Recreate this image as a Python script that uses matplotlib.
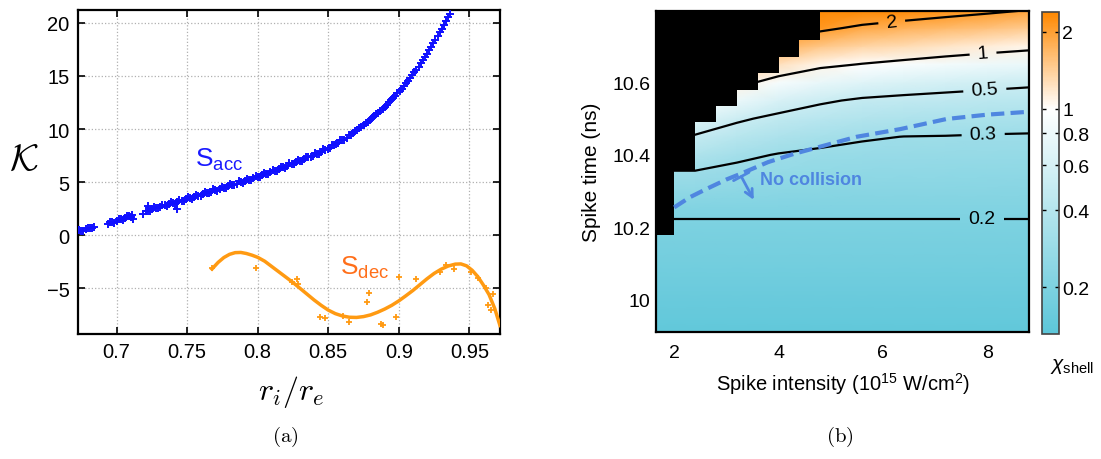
import numpy as np
import matplotlib
matplotlib.use("Agg")
import matplotlib.pyplot as plt
from matplotlib.colors import LinearSegmentedColormap, LogNorm

plt.rcParams['font.family'] = ['Liberation Sans', 'DejaVu Sans']
plt.rcParams['mathtext.fontset'] = 'custom'
plt.rcParams['mathtext.rm'] = 'Liberation Sans'
plt.rcParams['mathtext.it'] = 'Liberation Sans:italic'
plt.rcParams['mathtext.bf'] = 'Liberation Sans:bold'
plt.rcParams['mathtext.sf'] = 'Liberation Sans'

# ---- panel (a) data ----
acc_x = [0.672, 0.675, 0.678, 0.681, 0.684, 0.694, 0.697, 0.700, 0.703, 0.706,
         0.709, 0.711, 0.7118, 0.719, 0.722, 0.7224, 0.725, 0.728, 0.731, 0.734,
         0.737, 0.740, 0.743, 0.7425, 0.746, 0.749, 0.752, 0.755, 0.758, 0.761,
         0.764, 0.767, 0.770, 0.773, 0.776, 0.779, 0.782, 0.785, 0.788, 0.791,
         0.794, 0.797, 0.800, 0.803, 0.806, 0.809, 0.812, 0.815, 0.818, 0.821,
         0.824, 0.827, 0.830, 0.833, 0.836, 0.839, 0.842, 0.845, 0.848, 0.851,
         0.854, 0.857, 0.860, 0.863, 0.866, 0.869, 0.872, 0.875, 0.878, 0.881,
         0.884, 0.887, 0.890, 0.893, 0.896, 0.899, 0.902, 0.905, 0.908, 0.911,
         0.914, 0.917, 0.920, 0.923, 0.926, 0.929, 0.932, 0.935, 0.9365]
acc_y = [0.30, 0.42, 0.55, 0.68, 0.82, 1.05, 1.20, 1.35, 1.50, 1.63,
         1.77, 1.88, 1.53, 2.00, 2.30, 2.78, 2.45, 2.55, 2.68, 2.80,
         2.92, 3.00, 3.12, 2.47, 3.25, 3.38, 3.50, 3.60, 3.72, 3.85,
         3.98, 4.10, 4.22, 4.35, 4.47, 4.60, 4.72, 4.85, 4.97, 5.10,
         5.22, 5.36, 5.50, 5.63, 5.77, 5.92, 6.07, 6.22, 6.38, 6.53,
         6.68, 6.85, 7.00, 7.17, 7.33, 7.50, 7.67, 7.85, 8.03, 8.25,
         8.46, 8.68, 8.93, 9.20, 9.48, 9.77, 10.08, 10.37, 10.69, 11.02,
         11.37, 11.73, 12.11, 12.50, 12.92, 13.35, 13.81, 14.29, 14.79, 15.32,
         15.88, 16.46, 17.08, 17.72, 18.40, 19.10, 19.83, 20.50, 20.85]
# second pass of shots, in between the first ones
acc2_x = [0.6735, 0.6765, 0.6795, 0.6825, 0.6955, 0.6985, 0.7015, 0.7045, 0.7075, 0.7100,
          0.7205, 0.7235, 0.7265, 0.7295, 0.7325, 0.7355, 0.7385, 0.7415, 0.7445, 0.7475,
          0.7505, 0.7535, 0.7565, 0.7595, 0.7625, 0.7655, 0.7685, 0.7715, 0.7745, 0.7775,
          0.7805, 0.7835, 0.7865, 0.7895, 0.7925, 0.7955, 0.7985, 0.8015, 0.8045, 0.8075,
          0.8105, 0.8135, 0.8165, 0.8195, 0.8225, 0.8255, 0.8285, 0.8315, 0.8345, 0.8375,
          0.8405, 0.8435, 0.8465, 0.8495, 0.8525, 0.8555, 0.8585, 0.8615, 0.8645, 0.8675,
          0.8705, 0.8735, 0.8765, 0.8795, 0.8825, 0.8855, 0.8885, 0.8915, 0.8945, 0.8975,
          0.9005, 0.9035, 0.9065, 0.9095, 0.9125, 0.9155, 0.9185, 0.9215, 0.9245, 0.9275,
          0.9305, 0.9335]
acc2_y = [0.46, 0.39, 0.71, 0.65, 1.22, 1.18, 1.52, 1.47, 1.80, 1.73,
          2.30, 2.28, 2.65, 2.52, 2.89, 2.76, 3.11, 2.96, 3.34, 3.22,
          3.59, 3.45, 3.81, 3.68, 4.07, 3.94, 4.31, 4.19, 4.56, 4.44,
          4.81, 4.69, 5.06, 4.94, 5.31, 5.19, 5.58, 5.47, 5.85, 5.75,
          6.15, 6.05, 6.45, 6.36, 6.76, 6.67, 7.08, 6.99, 7.40, 7.32,
          7.74, 7.66, 8.09, 8.08, 8.47, 8.57, 8.92, 9.00, 9.44, 9.63,
          9.93, 10.22, 10.53, 10.86, 11.20, 11.55, 11.92, 12.30, 12.71, 13.13,
          13.58, 14.05, 14.54, 15.05, 15.60, 16.17, 16.77, 17.40, 18.06, 18.75,
          19.46, 20.20]

dec_x = [0.7676, 0.799, 0.8243, 0.8279, 0.8283, 0.8444, 0.8475, 0.8605, 0.8645,
         0.8775, 0.8787, 0.8876, 0.8886, 0.898, 0.9004, 0.912, 0.9295, 0.9335,
         0.939, 0.9514, 0.9559, 0.9618, 0.963, 0.9654, 0.9668]
dec_y = [-3.12, -3.12, -4.43, -4.12, -4.59, -7.67, -7.83, -7.58, -8.20,
         -6.32, -5.47, -8.36, -8.46, -7.67, -3.90, -4.12, -3.43, -2.77,
         -3.18, -3.43, -4.03, -5.00, -6.57, -7.01, -5.53]

fit_x = [0.7676, 0.772, 0.776, 0.780, 0.784, 0.788, 0.792, 0.796, 0.800, 0.805,
         0.810, 0.815, 0.820, 0.825, 0.830, 0.835, 0.840, 0.845, 0.850, 0.855,
         0.860, 0.865, 0.870, 0.875, 0.880, 0.885, 0.890, 0.895, 0.900, 0.905,
         0.910, 0.915, 0.920, 0.925, 0.930, 0.935, 0.940, 0.944, 0.948, 0.952,
         0.956, 0.960, 0.964, 0.968, 0.9717]
fit_y = [-3.18, -2.55, -2.10, -1.80, -1.64, -1.62, -1.72, -1.88, -2.08, -2.45,
         -2.95, -3.45, -3.95, -4.45, -5.00, -5.55, -6.10, -6.60, -7.05, -7.38,
         -7.60, -7.72, -7.74, -7.66, -7.50, -7.25, -6.95, -6.60, -6.18, -5.70,
         -5.20, -4.65, -4.10, -3.60, -3.20, -2.90, -2.72, -2.70, -2.88, -3.30,
         -3.90, -4.70, -5.60, -6.90, -8.50]

a_xticks = [0.7, 0.75, 0.8, 0.85, 0.9, 0.95]
a_xticklabels = ['0.7', '0.75', '0.8', '0.85', '0.9', '0.95']
a_yticks = [-5, 0, 5, 10, 15, 20]

# ---- panel (b) data ----
grid_x = [1.65, 2.4, 3.2, 4.0, 4.8, 5.6, 6.4, 7.2, 8.0, 8.8]
grid_y = [9.91, 10.0, 10.1, 10.2, 10.25, 10.3, 10.35, 10.4, 10.45, 10.5,
          10.55, 10.6, 10.65, 10.7, 10.75, 10.8]
# chi_shell, one list per column of grid_x (values along grid_y)
chi_cols = [
    [0.14, 0.155, 0.175, 0.193, 0.208, 0.249, 0.291, 0.371, 0.482, 0.668, 0.935, 1.29, 1.77, 2.42, 3.3, 4.6],
    [0.14, 0.155, 0.175, 0.193, 0.208, 0.249, 0.291, 0.371, 0.482, 0.668, 0.935, 1.29, 1.77, 2.42, 3.3, 4.6],
    [0.14, 0.155, 0.175, 0.193, 0.208, 0.240, 0.273, 0.322, 0.409, 0.531, 0.771, 1.10, 1.54, 2.14, 2.97, 4.1],
    [0.14, 0.155, 0.175, 0.193, 0.208, 0.235, 0.263, 0.295, 0.364, 0.456, 0.621, 0.891, 1.25, 1.75, 2.44, 3.4],
    [0.14, 0.155, 0.175, 0.193, 0.208, 0.231, 0.256, 0.283, 0.330, 0.413, 0.526, 0.755, 1.077, 1.51, 2.13, 2.98],
    [0.14, 0.155, 0.175, 0.193, 0.208, 0.228, 0.251, 0.276, 0.309, 0.384, 0.476, 0.674, 0.99, 1.37, 1.89, 2.6],
    [0.14, 0.155, 0.175, 0.193, 0.208, 0.227, 0.249, 0.273, 0.299, 0.368, 0.455, 0.624, 0.925, 1.288, 1.76, 2.42],
    [0.14, 0.155, 0.175, 0.193, 0.208, 0.227, 0.248, 0.271, 0.297, 0.359, 0.442, 0.585, 0.863, 1.213, 1.66, 2.26],
    [0.14, 0.155, 0.175, 0.193, 0.208, 0.226, 0.246, 0.268, 0.293, 0.350, 0.431, 0.556, 0.809, 1.146, 1.563, 2.13],
    [0.14, 0.155, 0.175, 0.193, 0.208, 0.225, 0.245, 0.267, 0.291, 0.343, 0.422, 0.533, 0.766, 1.083, 1.47, 2.0],
]
chi_levels = [0.2, 0.3, 0.5, 1, 2]
chi_level_labels = ['0.2', '0.3', '0.5', '1', '2']
label_pos = [(7.9, 10.23), (7.92, 10.463), (7.95, 10.586), (7.92, 10.678), (6.17, 10.765)]

# collision region (black staircase)
black_x = [1.6, 2.0, 2.4, 2.8, 3.2, 3.6, 4.0, 4.4, 4.8]
black_y = [10.18, 10.356, 10.49, 10.536, 10.58, 10.625, 10.67, 10.717, 10.717]

# "No collision" boundary
nc_x = [2.0, 2.3, 2.62, 3.0, 3.26, 3.8, 4.3, 4.86, 5.5, 6.33, 7.22, 8.0, 8.8]
nc_y = [10.255, 10.283, 10.306, 10.332, 10.347, 10.38, 10.403, 10.425, 10.45, 10.471, 10.499, 10.511, 10.519]

b_xticks = [2, 4, 6, 8]
b_yticks = [10.0, 10.2, 10.4, 10.6]
b_yticklabels = ['10', '10.2', '10.4', '10.6']
cb_ticks = [0.2, 0.4, 0.6, 0.8, 1, 2]
cb_ticklabels = ['0.2', '0.4', '0.6', '0.8', '1', '2']

fig = plt.figure(figsize=(11.01, 4.6), dpi=100)

# ================= panel (a) =================
ax = fig.add_axes([0.0708, 0.2717, 0.3833, 0.7043])
ax.plot(fit_x, fit_y, color='#ff9a12', lw=2.5, zorder=3)
ax.plot(dec_x, dec_y, '+', color='#ff9a12', ms=5, mew=1.3, zorder=3)
ax.plot(acc_x, acc_y, '+', color='#1010ff', ms=5.5, mew=1.4, zorder=3)
ax.plot(acc2_x, acc2_y, '+', color='#1010ff', ms=5.5, mew=1.4, zorder=3)
ax.set_xlim(0.6726, 0.9717)
ax.set_ylim(-9.3, 21.2)
ax.set_xticks(a_xticks)
ax.set_xticklabels(a_xticklabels)
ax.set_yticks(a_yticks)
ax.grid(True, ls=':', color='#b0b0b0', lw=0.9)
ax.tick_params(direction='in', top=True, right=True, length=5, width=1.2,
               labelsize=14.5, pad=6)
for s in ax.spines.values():
    s.set_linewidth(1.6)

ax.text(0.7555, 7.2, r'$\mathrm{S}_{\mathrm{acc}}$', color='#1a1aff', fontsize=19,
        ha='left', va='center')
ax.text(0.8585, -3.0, r'$\mathrm{S}_{\mathrm{dec}}$', color='#ff6f1a', fontsize=19,
        ha='left', va='center')
ax.text(-0.128, 0.54, r'$\mathcal{K}$', transform=ax.transAxes, fontsize=27,
        ha='center', va='center', math_fontfamily='cm')
ax.text(0.505, -0.177, r'$r_i/r_e$', transform=ax.transAxes, fontsize=23,
        ha='center', va='center', math_fontfamily='cm')
fig.text(285 / 1101, 1 - 437 / 460, r'$\mathrm{(a)}$', fontsize=15,
         ha='center', va='center', math_fontfamily='cm')

# ================= panel (b) =================
bx = fig.add_axes([0.5958, 0.2761, 0.3388, 0.6985])
cmap = LinearSegmentedColormap.from_list(
    'chi', [(0.0, '#5cc6d9'), (0.699, '#ffffff'), (1.0, '#ff8800')])
norm = LogNorm(vmin=0.131, vmax=2.4)
chi = np.array(chi_cols).T
mesh = bx.pcolormesh(grid_x, grid_y, chi, cmap=cmap, norm=norm,
                     shading='gouraud', zorder=0)
cs = bx.contour(grid_x, grid_y, np.log10(chi), levels=np.log10(chi_levels),
                colors='k', linewidths=1.6, linestyles='solid', zorder=1)
fmt = {lev: lab for lev, lab in zip(cs.levels, chi_level_labels)}
bx.clabel(cs, fmt=fmt, fontsize=14, manual=label_pos, inline=True,
          inline_spacing=8)
bx.fill_between(black_x, black_y, 10.85, step='post', color='black',
                lw=0, zorder=2)
bx.plot(nc_x, nc_y, color='#4f86e0', lw=3, dashes=(3.2, 1.5), zorder=3)
bx.annotate('', xy=(3.55, 10.269), xytext=(3.26, 10.347),
            arrowprops=dict(arrowstyle=']->, widthA=0.45, lengthA=0, angleA=0',
                            color='#4f86e0', lw=2, mutation_scale=14), zorder=3)
bx.text(3.64, 10.333, 'No collision', color='#4f86e0', fontsize=13,
        fontweight='bold', ha='left', va='center', zorder=3)
bx.set_xlim(1.65, 8.8)
bx.set_ylim(9.911, 10.798)
bx.set_xticks(b_xticks)
bx.set_yticks(b_yticks)
bx.set_yticklabels(b_yticklabels)
bx.tick_params(length=0, labelsize=14, pad=4)
bx.tick_params(axis='x', pad=9)
for s in bx.spines.values():
    s.set_linewidth(1.6)
bx.set_xlabel(r'Spike intensity (10$^{15}$ W/cm$^{2}$)', fontsize=14.5, labelpad=6)
bx.set_ylabel('Spike time (ns)', fontsize=15, labelpad=8)

cax = fig.add_axes([0.9461, 0.2717, 0.016, 0.7007])
cb = fig.colorbar(mesh, cax=cax, ticks=cb_ticks)
cb.minorticks_off()
cb.set_ticks(cb_ticks)
cb.set_ticklabels(cb_ticklabels)
cax.tick_params(direction='in', left=True, right=True, length=3, width=1,
                labelsize=14, pad=2)
cb.outline.set_linewidth(1.2)
cb.outline.set_edgecolor('#444444')
fig.text(1072 / 1101, 1 - 367 / 460, r'$\chi_{\mathrm{shell}}$', fontsize=15,
         ha='center', va='center')
fig.text(840 / 1101, 1 - 437 / 460, r'$\mathrm{(b)}$', fontsize=15,
         ha='center', va='center', math_fontfamily='cm')

fig.savefig('out.png', dpi=100)
